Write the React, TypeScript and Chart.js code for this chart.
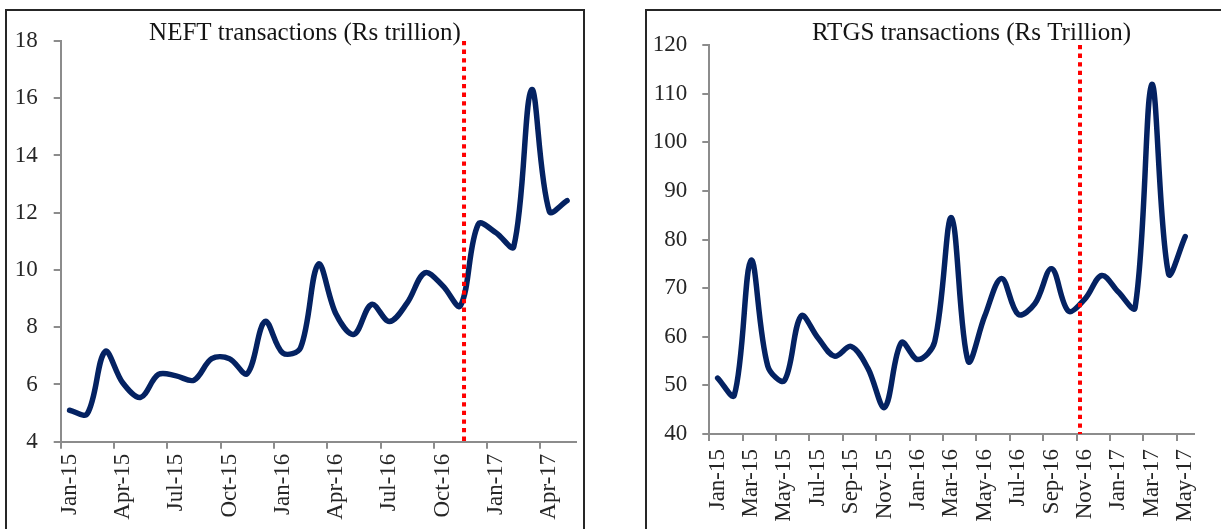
import React, { useEffect, useRef } from "react";
import { Chart, registerables } from "chart.js";

Chart.register(...registerables);

// ---------- data ----------
const MONTHS = [
  "Jan-15", "Feb-15", "Mar-15", "Apr-15", "May-15", "Jun-15", "Jul-15", "Aug-15", "Sep-15", "Oct-15", "Nov-15", "Dec-15",
  "Jan-16", "Feb-16", "Mar-16", "Apr-16", "May-16", "Jun-16", "Jul-16", "Aug-16", "Sep-16", "Oct-16", "Nov-16", "Dec-16",
  "Jan-17", "Feb-17", "Mar-17", "Apr-17", "May-17",
];

const NEFT = [
  5.1, 4.98, 7.15, 6.05, 5.55, 6.35, 6.3, 6.15, 6.9, 6.9, 6.38, 8.2,
  7.1, 7.28, 10.2, 8.45, 7.75, 8.8, 8.2, 8.85, 9.9, 9.45, 8.75, 11.6,
  11.3, 10.82, 16.3, 12.05, 12.42,
];

const RTGS = [
  51.5, 48, 75.7, 54, 51, 64.3, 59.8, 56, 58, 53.5, 45.5, 58.8,
  55.3, 59, 84.5, 55, 64.3, 72, 64.6, 66.8, 74, 65.3, 67.8, 72.6,
  69.2, 66, 111.9, 73, 80.6,
];

const NEFT_TITLE = "NEFT transactions (Rs trillion)";
const RTGS_TITLE = "RTGS transactions (Rs Trillion)";

// y axis: [min, max, step]
const NEFT_Y_AXIS = [4, 18, 2];
const RTGS_Y_AXIS = [40, 120, 10];

// show every n-th month label
const NEFT_LABEL_STEP = 3;
const RTGS_LABEL_STEP = 2;

// position of the red dotted marker, in month-index units
const NEFT_MARKER = 22.2;
const RTGS_MARKER = 21.7;

// ---------- styles ----------
const FONT = '"Liberation Serif", "Times New Roman", serif';
const LINE_COLOR = "#042262";
const AXIS_COLOR = "#8c8c8c";
const TICK_COLOR = "#262626";
const TITLE_COLOR = "#141414";

const overlayPlugin = {
  id: "overlay",
  afterDatasetsDraw(chart: any, _args: any, opts: any) {
    const { ctx, chartArea, scales } = chart;
    const sx = scales.x;
    const i0 = Math.floor(opts.marker);
    const f = opts.marker - i0;
    const p0 = sx.getPixelForValue(i0);
    const p1 = sx.getPixelForValue(i0 + 1);
    const x = p0 + (p1 - p0) * f;
    ctx.save();
    ctx.strokeStyle = "#ff0000";
    ctx.lineWidth = 4;
    ctx.setLineDash([4.3, 4.3]);
    ctx.beginPath();
    ctx.moveTo(x, chartArea.top);
    ctx.lineTo(x, chartArea.bottom);
    ctx.stroke();
    ctx.restore();
  },
  afterDraw(chart: any, _args: any, opts: any) {
    const { ctx } = chart;
    ctx.save();
    ctx.font = `${opts.size}px ${FONT}`;
    ctx.fillStyle = TITLE_COLOR;
    ctx.textAlign = "center";
    ctx.textBaseline = "alphabetic";
    ctx.fillText(opts.text, opts.cx, opts.baseline);
    ctx.restore();
  },
};

type PanelCfg = {
  left: number;
  w: number;
  h: number;
  top: number;
  padRight: number;
  yAxisW: number;
  xAxisH: number;
  xPad: number;
  yPad: number;
  values: number[];
  yAxis: number[];
  step: number;
  marker: number;
  title: string;
  titleCx: number;
  titleBaseline: number;
};

function Panel({ cfg }: { cfg: PanelCfg }) {
  const ref = useRef<HTMLCanvasElement>(null);
  useEffect(() => {
    const chart = new Chart(ref.current as HTMLCanvasElement, {
      type: "line",
      data: {
        labels: MONTHS,
        datasets: [
          {
            data: cfg.values,
            borderColor: LINE_COLOR,
            borderWidth: 5.5,
            tension: 0.35,
            pointRadius: 0,
            fill: false,
            borderCapStyle: "round",
            borderJoinStyle: "round",
          },
        ],
      },
      options: {
        animation: false,
        responsive: false,
        devicePixelRatio: 1,
        events: [],
        layout: { padding: { left: 0, top: cfg.top, right: cfg.padRight, bottom: 0 } },
        plugins: {
          legend: { display: false },
          tooltip: { enabled: false },
          title: { display: false },
          overlay: {
            marker: cfg.marker,
            text: cfg.title,
            cx: cfg.titleCx,
            baseline: cfg.titleBaseline,
            size: 25,
          },
        } as any,
        scales: {
          x: {
            type: "category",
            offset: true,
            grid: {
              offset: true,
              drawOnChartArea: false,
              drawTicks: true,
              tickLength: 7,
              lineWidth: 2,
              color: (c: any) => (c.index % cfg.step === 0 ? AXIS_COLOR : "rgba(0,0,0,0)"),
              tickColor: (c: any) => (c.index % cfg.step === 0 ? AXIS_COLOR : "rgba(0,0,0,0)"),
            },
            border: { display: true, color: AXIS_COLOR, width: 2 },
            ticks: {
              autoSkip: false,
              maxRotation: 90,
              minRotation: 90,
              padding: cfg.xPad,
              color: TICK_COLOR,
              font: { family: FONT, size: 23 },
              callback: (_v: any, i: number) => (i % cfg.step === 0 ? MONTHS[i] : ""),
            },
            afterFit: (s: any) => {
              s.height = cfg.xAxisH;
            },
          },
          y: {
            min: cfg.yAxis[0],
            max: cfg.yAxis[1],
            grid: {
              drawOnChartArea: false,
              drawTicks: true,
              tickLength: 7,
              lineWidth: 2,
              color: AXIS_COLOR,
              tickColor: AXIS_COLOR,
            },
            border: { display: true, color: AXIS_COLOR, width: 2 },
            ticks: {
              stepSize: cfg.yAxis[2],
              padding: cfg.yPad,
              color: TICK_COLOR,
              font: { family: FONT, size: 23 },
            },
            afterFit: (s: any) => {
              s.width = cfg.yAxisW;
            },
          },
        },
      } as any,
      plugins: [overlayPlugin as any],
    });
    return () => chart.destroy();
  }, []);
  return (
    <canvas
      ref={ref}
      width={cfg.w}
      height={cfg.h}
      style={{ position: "absolute", left: cfg.left, top: 0, width: cfg.w, height: cfg.h }}
    />
  );
}

const LEFT: PanelCfg = {
  left: 0,
  w: 600,
  h: 529,
  top: 41,
  padRight: 18.3,
  yAxisW: 60.7,
  xAxisH: 87.3,
  xPad: 5,
  yPad: 16,
  values: NEFT,
  yAxis: NEFT_Y_AXIS,
  step: NEFT_LABEL_STEP,
  marker: NEFT_MARKER,
  title: NEFT_TITLE,
  titleCx: 305,
  titleBaseline: 40,
};

const RIGHT: PanelCfg = {
  left: 640,
  w: 581,
  h: 529,
  top: 45,
  padRight: 11.7,
  yAxisW: 69.3,
  xAxisH: 95,
  xPad: 8,
  yPad: 15,
  values: RTGS,
  yAxis: RTGS_Y_AXIS,
  step: RTGS_LABEL_STEP,
  marker: RTGS_MARKER,
  title: RTGS_TITLE,
  titleCx: 331.5,
  titleBaseline: 40,
};

export default function App() {
  return (
    <div
      style={{
        position: "fixed",
        left: 0,
        top: 0,
        width: 1221,
        height: 529,
        overflow: "hidden",
        background: "#ffffff",
      }}
    >
      <div
        style={{
          position: "absolute",
          left: 5,
          top: 9,
          width: 576,
          height: 600,
          border: "2px solid #262626",
        }}
      />
      <div
        style={{
          position: "absolute",
          left: 645,
          top: 9,
          width: 700,
          height: 600,
          border: "2px solid #262626",
        }}
      />
      <Panel cfg={LEFT} />
      <Panel cfg={RIGHT} />
    </div>
  );
}
